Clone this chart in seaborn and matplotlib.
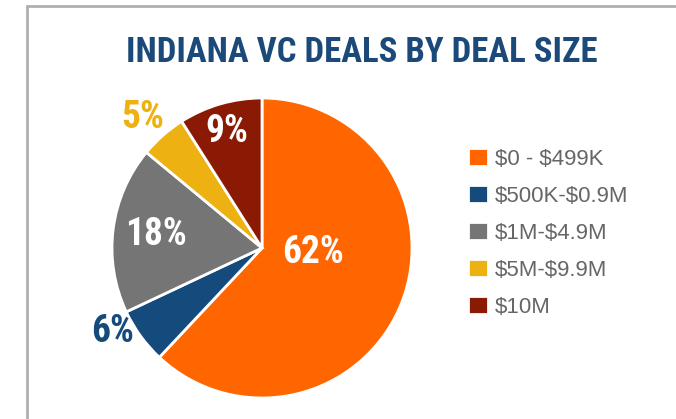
import numpy as np
import seaborn as sns
import matplotlib.pyplot as plt
from matplotlib.lines import Line2D

## ==============================
## 데이터
categories = ['$0 - $499K', '$500K-$0.9M', '$1M-$4.9M', '$5M-$9.9M', '$10M']
shares = [62, 6, 18, 5, 9]
colors = ['#FF6600', '#154A7D', '#757575', '#EDB111', '#8B1A05']
label_colors = ['white', '#154A7D', 'white', '#EDB111', 'white']

# 라벨 위치 (반지름 비율, 각도 보정)
label_dist = [0.34, 1.14, 0.71, 1.18, 0.81]
angle_shift = [17, -6.6, 0, 1, 0.6]

sns.set_theme(style='white')
narrow = ['Roboto Condensed', 'DejaVu Sans']
plain = ['Liberation Sans', 'DejaVu Sans']

W, H = 676, 419
fig = plt.figure(figsize=(W / 100, H / 100), dpi=100)
fig.patch.set_facecolor('white')

# 바깥 테두리 (위, 왼쪽)
fig.add_artist(Line2D([27 / W, 1], [1 - 6 / H, 1 - 6 / H], color='#B0B0B0', lw=2))
fig.add_artist(Line2D([27 / W, 27 / W], [0, 1 - 6 / H], color='#B0B0B0', lw=2))

fig.text(362 / W, 1 - 53 / H, 'INDIANA VC DEALS BY DEAL SIZE', ha='center', va='center',
         fontsize=25, fontweight='bold', color='#1B4A7A', family=narrow)

## ==============================
## 파이 차트
cx, cy, r = 262, 248, 150
ax = fig.add_axes([(cx - r) / W, (H - cy - r) / H, 2 * r / W, 2 * r / H])
wedges, _ = ax.pie(shares, colors=colors, startangle=90, counterclock=False,
                   wedgeprops=dict(edgecolor='white', linewidth=2))
ax.set_xlim(-1, 1)
ax.set_ylim(-1, 1)
ax.set_aspect('equal')
ax.axis('off')

for w, val, d, sh, c in zip(wedges, shares, label_dist, angle_shift, label_colors):
    mid = np.deg2rad((w.theta1 + w.theta2) / 2 + sh)
    ax.text(d * np.cos(mid), d * np.sin(mid), f'{val}%', ha='center', va='center',
            fontsize=27, fontweight='bold', color=c, family=narrow)

## ==============================
## 범례
fig.legend(wedges, [c.replace('$', r'\$') for c in categories], loc='upper left',
           bbox_to_anchor=(468 / W, 1 - 148 / H),
           frameon=False, prop={'family': plain, 'size': 16}, labelcolor='#666666',
           handlelength=0.9, handleheight=0.9, handletextpad=0.3, labelspacing=0.68,
           borderpad=0, borderaxespad=0)

fig.savefig('out.png', dpi=100)
